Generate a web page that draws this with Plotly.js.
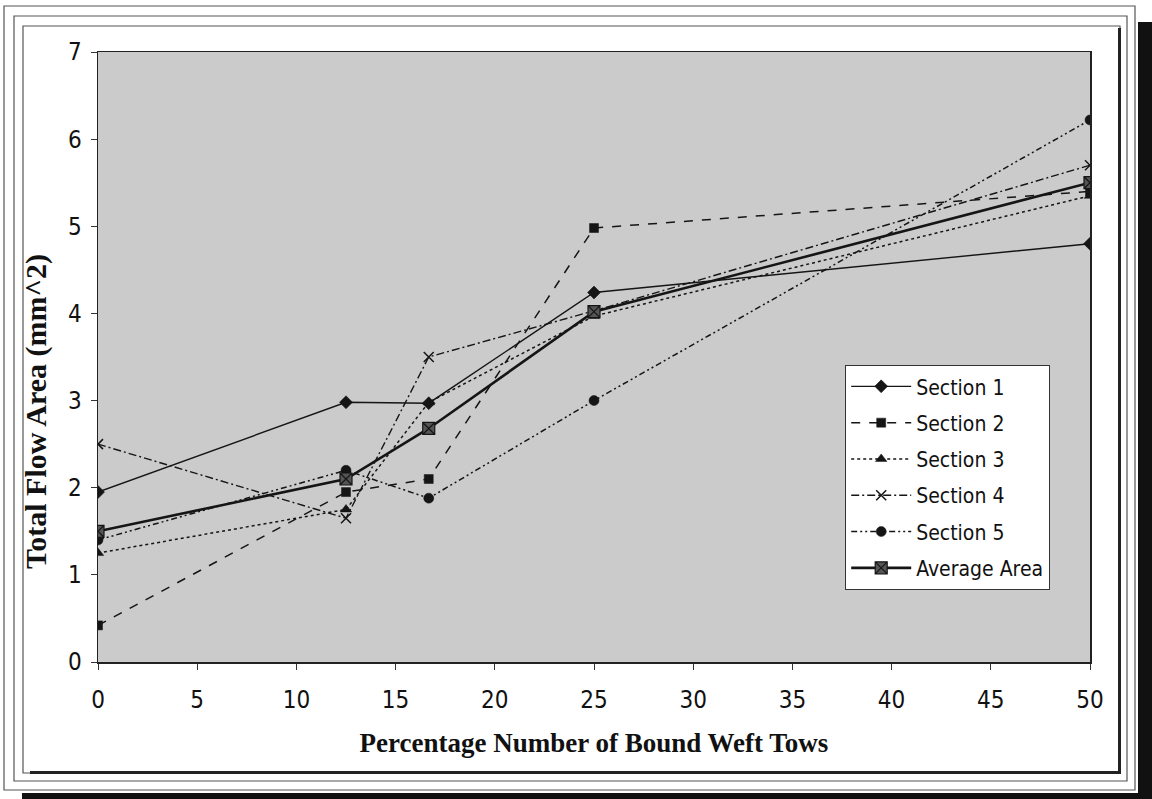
<!DOCTYPE html>
<html>
<head>
<meta charset="utf-8">
<script src="https://cdn.plot.ly/plotly-3.0.1.min.js"></script>
<style>
html,body{margin:0;padding:0;background:#fff;}
#chart{width:1152px;height:799px;}
</style>
</head>
<body>
<div id="chart"></div>
<script>
// ---- data ----
const xPct = [0, 12.5, 16.67, 25, 50];
const section1 = [1.95, 2.98, 2.97, 4.24, 4.80];
const section2 = [0.42, 1.95, 2.10, 4.98, 5.40];
const section3 = [1.25, 1.75, 2.98, 3.97, 5.35];
const section4 = [2.50, 1.65, 3.50, 4.03, 5.70];
const section5 = [1.40, 2.20, 1.88, 3.00, 6.22];
const averageArea = [1.50, 2.10, 2.68, 4.02, 5.50];
const seriesNames = ["Section 1", "Section 2", "Section 3", "Section 4", "Section 5", "Average Area"];
const xTicks = [0, 5, 10, 15, 20, 25, 30, 35, 40, 45, 50];
const yTicks = [0, 1, 2, 3, 4, 5, 6, 7];
const xTitle = "Percentage Number of Bound Weft Tows";
const yTitle = "Total Flow Area (mm^2)";

// ---- layout geometry (pixels) ----
const W = 1152, H = 799;
const M = {l: 98, r: 62, t: 52, b: 137};
const pw = W - M.l - M.r, ph = H - M.t - M.b;
const px = v => (v - M.l) / pw;
const py = v => (H - M.b - v) / ph;

const narrow = "'Liberation Sans Narrow', 'DejaVu Sans Condensed', 'Arial Narrow', 'Liberation Sans', sans-serif";
const serif = "'Liberation Serif', 'DejaVu Serif', serif";
const ink = "#151515";

function tr(y, name, dash, symbol, msize, lw, group) {
  return {
    x: xPct, y: y, name: name, type: "scatter", mode: "lines+markers",
    line: {color: ink, width: lw, dash: dash},
    marker: {symbol: symbol, size: msize, color: ink, line: {color: ink, width: symbol.indexOf("x-thin") === 0 ? 1.5 : 0.5}},
    legendgroup: group
  };
}

const data = [
  tr(section1, seriesNames[0], "solid", "diamond", 10, 1.4, "g1"),
  tr(section2, seriesNames[1], "dash", "square", 9, 1.5, "g2"),
  tr(section3, seriesNames[2], "dot", "triangle-up", 10, 1.5, "g3"),
  tr(section4, seriesNames[3], "8px,3px,2px,3px", "x-thin-open", 10, 1.4, "g4"),
  tr(section5, seriesNames[4], "6px,3px,2px,3px,2px,3px", "circle", 10, 1.5, "g5"),
  {
    x: xPct, y: averageArea, name: seriesNames[5], type: "scatter", mode: "lines+markers",
    line: {color: ink, width: 2.6},
    marker: {symbol: "square-x", size: 12, color: "#555", line: {color: ink, width: 1.2}},
    legendgroup: "g6"
  }
];

function rect(x0, y0, x1, y1, color, width, fill) {
  return {type: "rect", xref: "paper", yref: "paper", layer: "below",
    x0: px(x0), x1: px(x1), y0: py(y1), y1: py(y0),
    line: {color: color, width: width}, fillcolor: fill || "rgba(0,0,0,0)"};
}

const shapes = [
  // outer black shadow band
  rect(1138, 22, 1152, 799, "rgba(0,0,0,0)", 0, "#111"),
  rect(22, 793, 1152, 799, "rgba(0,0,0,0)", 0, "#111"),
  // nested frames
  rect(4, 6, 1135, 790, "#555", 1.2),
  rect(14, 16, 1127, 781, "#555", 1.2),
  rect(23, 26, 1120, 773, "#555", 1.2),
  // dark right / bottom edge of inner panel
  rect(1118, 28, 1121, 774, "rgba(0,0,0,0)", 0, "#222"),
  rect(30, 771, 1121, 774, "rgba(0,0,0,0)", 0, "#222")
];

const layout = {
  width: W, height: H,
  margin: M,
  paper_bgcolor: "#ffffff",
  plot_bgcolor: "#cbcbcb",
  showlegend: true,
  font: {family: narrow, color: "#111", size: 21},
  xaxis: {
    range: [0, 50], tickvals: xTicks, ticktext: xTicks.map(String),
    showgrid: false, zeroline: false,
    showline: true, linecolor: "#222", linewidth: 1.5, mirror: true,
    ticks: "outside", ticklen: 6, tickcolor: "#333", tickwidth: 1,
    ticklabelstandoff: 10,
    tickfont: {family: narrow, size: 24, color: "#111"},
    title: {text: xTitle, standoff: 20,
      font: {family: serif, size: 27, color: "#111", weight: "bold"}}
  },
  yaxis: {
    range: [0, 7], tickvals: yTicks, ticktext: yTicks.map(String),
    showgrid: false, zeroline: false,
    showline: true, linecolor: "#222", linewidth: 1.5, mirror: true,
    ticks: "outside", ticklen: 6, tickcolor: "#333", tickwidth: 1,
    ticklabelstandoff: 4,
    tickfont: {family: narrow, size: 24, color: "#111"}
  },
  annotations: [{
    text: yTitle, xref: "paper", yref: "paper", x: px(36), y: py(412),
    xanchor: "center", yanchor: "middle", textangle: -90, showarrow: false,
    font: {family: serif, size: 30, color: "#111", weight: "bold"}
  }],
  legend: {
    x: px(845), y: py(365), xanchor: "left", yanchor: "top",
    bgcolor: "#ffffff", bordercolor: "#333", borderwidth: 1.2,
    font: {family: narrow, size: 21, color: "#111"},
    itemwidth: 60, traceorder: "grouped", tracegroupgap: 6
  },
  shapes: shapes
};

Plotly.newPlot("chart", data, layout, {displayModeBar: false, staticPlot: true});
</script>
</body>
</html>
